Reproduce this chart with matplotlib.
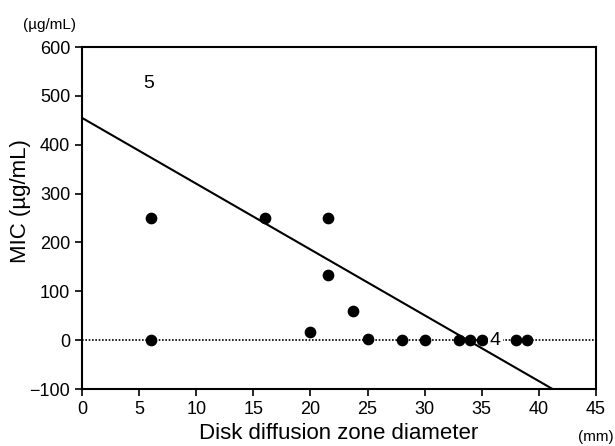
import numpy as np
import matplotlib.pyplot as plt

plt.rcParams['font.family'] = ['Liberation Sans', 'DejaVu Sans']

# disk diffusion zone diameter (mm) vs MIC (ug/mL)
zone = [6, 6, 16, 21.5, 21.5, 20, 23.7, 25, 28, 30, 33, 34, 35, 38, 39]
mic = [250, 0, 250, 250, 133, 17, 60, 3, 0, 0, 0, 0, 0, 0, 0]

# regression line end points
fit_x = [0, 41.2]
fit_y = [455, -100]

xticks = [0, 5, 10, 15, 20, 25, 30, 35, 40, 45]
yticks = [-100, 0, 100, 200, 300, 400, 500, 600]

fig = plt.figure(figsize=(6.15, 4.46), dpi=100)
ax = fig.add_axes([0.1333, 0.1278, 0.8357, 0.7668])

ax.axhline(0, color='black', linestyle=(0, (1, 1)), linewidth=1.2, zorder=1)
ax.plot(fit_x, fit_y, color='black', linewidth=1.5, zorder=2)
ax.scatter(zone, mic, s=55, color='black', zorder=3)

ax.text(36.2, 0, '4', fontsize=14, ha='center', va='center', zorder=4,
        bbox=dict(facecolor='white', edgecolor='none', pad=1.5))
ax.text(5.8, 525, '5', fontsize=14, ha='center', va='center')

ax.set_xlim(0, 45)
ax.set_ylim(-100, 600)
ax.set_xticks(xticks)
ax.set_yticks(yticks)
ax.tick_params(labelsize=13, direction='out', length=5, width=1.2)
for s in ax.spines.values():
    s.set_linewidth(1.5)

ax.set_xlabel('Disk diffusion zone diameter', fontsize=16, labelpad=4)
ax.set_ylabel('MIC (\u00b5g/mL)', fontsize=16, labelpad=2)
ax.yaxis.set_label_coords(-0.1, 0.55)

fig.text(0.08, 0.945, '(\u00b5g/mL)', fontsize=11, ha='center', va='center')
fig.text(0.968, 0.02, '(mm)', fontsize=11, ha='center', va='center')

fig.savefig('out.png')
